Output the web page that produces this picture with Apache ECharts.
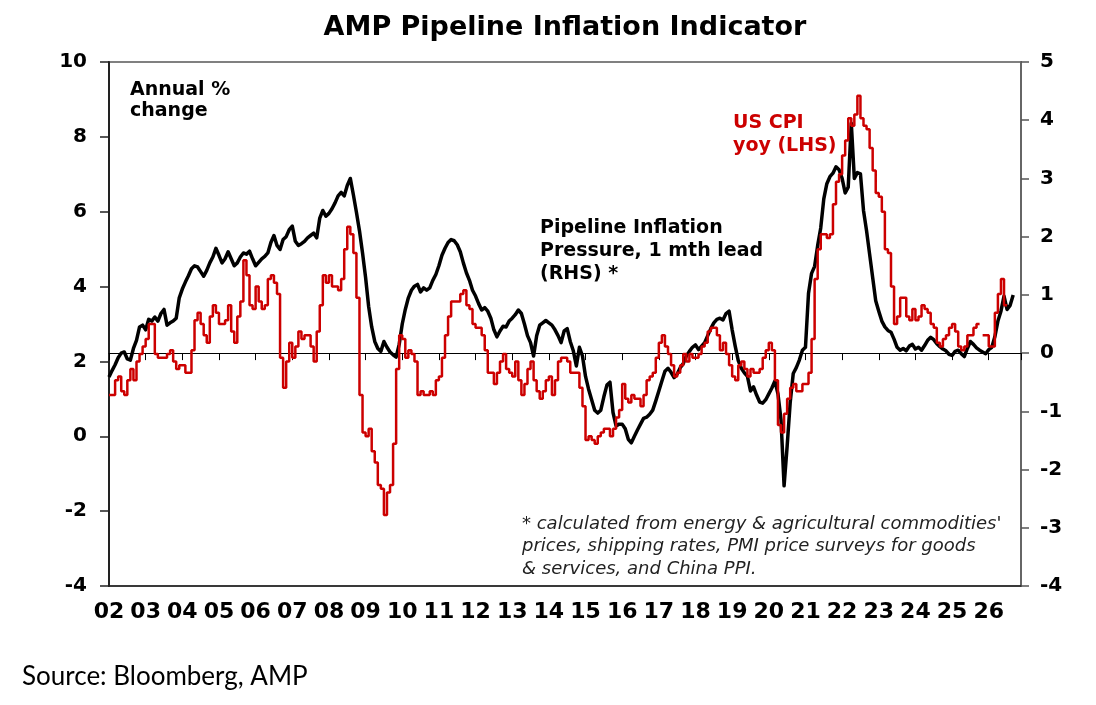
<!DOCTYPE html>
<html lang="en">

<head>
    <meta charset="UTF-8">
    <title>AMP Pipeline Inflation Indicator</title>
    <style>
        html, body { margin: 0; padding: 0; background: #fff; }
        #chart { width: 1096px; height: 705px; }
    </style>
</head>

<body>
    <div id="chart"></div>
</body>
<script src="https://cdn.jsdelivr.net/npm/echarts@6.0.0/dist/echarts.min.js"></script>
<script>
    // x axis tick labels, one per year from 2002
    var yearLabels = ['02', '03', '04', '05', '06', '07', '08', '09', '10', '11', '12', '13',
        '14', '15', '16', '17', '18', '19', '20', '21', '22', '23', '24', '25', '26'];

    // US CPI yoy (LHS), monthly from Jan 2002
    var cpiStart = 2002;
    var cpiYoy = [
        1.1, 1.1, 1.5, 1.6, 1.2, 1.1, 1.5, 1.8, 1.5, 2.0, 2.2, 2.4,
        2.6, 3.0, 3.0, 2.2, 2.1, 2.1, 2.1, 2.2, 2.3, 2.0, 1.8, 1.9,
        1.9, 1.7, 1.7, 2.3, 3.1, 3.3, 3.0, 2.7, 2.5, 3.2, 3.5, 3.3,
        3.0, 3.0, 3.1, 3.5, 2.8, 2.5, 3.2, 3.6, 4.7, 4.3, 3.5, 3.4,
        4.0, 3.6, 3.4, 3.5, 4.2, 4.3, 4.1, 3.8, 2.1, 1.3, 2.0, 2.5,
        2.1, 2.4, 2.8, 2.6, 2.7, 2.7, 2.4, 2.0, 2.8, 3.5, 4.3, 4.1,
        4.3, 4.0, 4.0, 3.9, 4.2, 5.0, 5.6, 5.4, 4.9, 3.7, 1.1, 0.1,
        0.0, 0.2, -0.4, -0.7, -1.3, -1.4, -2.1, -1.5, -1.3, -0.2, 1.8, 2.7,
        2.6, 2.1, 2.3, 2.2, 2.0, 1.1, 1.2, 1.1, 1.1, 1.2, 1.1, 1.5,
        1.6, 2.1, 2.7, 3.2, 3.6, 3.6, 3.6, 3.8, 3.9, 3.5, 3.4, 3.0,
        2.9, 2.9, 2.7, 2.3, 1.7, 1.7, 1.4, 1.7, 2.0, 2.2, 1.8, 1.7,
        1.6, 2.0, 1.5, 1.1, 1.4, 1.8, 2.0, 1.5, 1.2, 1.0, 1.2, 1.5,
        1.6, 1.1, 1.5, 2.0, 2.1, 2.1, 2.0, 1.7, 1.7, 1.7, 1.3, 0.8,
        -0.1, 0.0, -0.1, -0.2, 0.0, 0.1, 0.2, 0.2, 0.0, 0.2, 0.5, 0.7,
        1.4, 1.0, 0.9, 1.1, 1.0, 1.0, 0.8, 1.1, 1.5, 1.6, 1.7, 2.1,
        2.5, 2.7, 2.4, 2.2, 1.9, 1.6, 1.7, 1.9, 2.2, 2.0, 2.2, 2.1,
        2.1, 2.2, 2.4, 2.5, 2.8, 2.9, 2.9, 2.7, 2.3, 2.5, 2.2, 1.9,
        1.6, 1.5, 1.9, 2.0, 1.8, 1.6, 1.8, 1.7, 1.7, 1.8, 2.1, 2.3,
        2.5, 2.3, 1.5, 0.3, 0.1, 0.6, 1.0, 1.3, 1.4, 1.2, 1.2, 1.4,
        1.4, 1.7, 2.6, 4.2, 5.0, 5.4, 5.4, 5.3, 5.4, 6.2, 6.8, 7.0,
        7.5, 7.9, 8.5, 8.3, 8.6, 9.1, 8.5, 8.3, 8.2, 7.7, 7.1, 6.5,
        6.4, 6.0, 5.0, 4.9, 4.0, 3.0, 3.2, 3.7, 3.7, 3.2, 3.1, 3.4,
        3.1, 3.2, 3.5, 3.4, 3.3, 3.0, 2.9, 2.5, 2.4, 2.6, 2.7, 2.9,
        3.0, 2.8, 2.4, 2.3, 2.4, 2.7, 2.7, 2.9, 3.0, null, 2.7, 2.7,
        2.4, 2.4, 3.3, 3.8, 4.2, 3.5
    ];

    // Pipeline inflation pressure, 1 mth lead (RHS), monthly from Jan 2002
    var pipelineStart = 2002;
    var pipelineRhs = [
        -0.41, -0.30, -0.20, -0.08, 0.00, 0.02, -0.10, -0.12, 0.08, 0.22, 0.45, 0.48,
        0.40, 0.58, 0.55, 0.62, 0.55, 0.68, 0.75, 0.48, 0.52, 0.55, 0.60, 0.95,
        1.10, 1.22, 1.33, 1.45, 1.50, 1.48, 1.40, 1.32, 1.42, 1.55, 1.65, 1.80,
        1.68, 1.55, 1.62, 1.74, 1.62, 1.50, 1.55, 1.65, 1.72, 1.70, 1.75, 1.62,
        1.50, 1.56, 1.62, 1.66, 1.72, 1.90, 2.02, 1.85, 1.78, 1.95, 2.00, 2.12,
        2.18, 1.92, 1.85, 1.88, 1.92, 1.98, 2.02, 2.06, 1.98, 2.32, 2.45, 2.35,
        2.40, 2.48, 2.58, 2.70, 2.76, 2.70, 2.88, 3.00, 2.72, 2.42, 2.10, 1.72,
        1.30, 0.80, 0.45, 0.20, 0.08, 0.03, 0.20, 0.10, 0.02, -0.03, -0.07, 0.15,
        0.50, 0.75, 0.95, 1.08, 1.15, 1.18, 1.05, 1.12, 1.08, 1.12, 1.25, 1.35,
        1.50, 1.68, 1.80, 1.90, 1.95, 1.93, 1.86, 1.74, 1.55, 1.38, 1.25, 1.08,
        0.98, 0.85, 0.74, 0.78, 0.72, 0.60, 0.40, 0.28, 0.38, 0.46, 0.45, 0.55,
        0.60, 0.66, 0.74, 0.68, 0.50, 0.30, 0.18, -0.05, 0.30, 0.48, 0.52, 0.56,
        0.52, 0.48, 0.40, 0.30, 0.18, 0.38, 0.42, 0.20, 0.04, -0.22, 0.10, -0.05,
        -0.40, -0.62, -0.80, -0.98, -1.03, -0.98, -0.75, -0.55, -0.50, -1.02, -1.25, -1.22,
        -1.22, -1.30, -1.48, -1.54, -1.43, -1.32, -1.22, -1.12, -1.10, -1.05, -0.98, -0.82,
        -0.65, -0.48, -0.31, -0.26, -0.33, -0.42, -0.36, -0.25, -0.18, -0.05, 0.03, 0.10,
        0.14, 0.06, 0.12, 0.18, 0.30, 0.42, 0.52, 0.58, 0.60, 0.57, 0.68, 0.72,
        0.40, 0.12, -0.13, -0.26, -0.34, -0.40, -0.65, -0.58, -0.72, -0.84, -0.86, -0.80,
        -0.70, -0.60, -0.48, -0.70, -1.15, -2.28, -1.60, -0.85, -0.35, -0.25, -0.12, 0.05,
        0.10, 1.03, 1.37, 1.49, 1.85, 2.15, 2.65, 2.91, 3.03, 3.09, 3.20, 3.15,
        3.00, 2.75, 2.85, 3.95, 3.00, 3.10, 3.08, 2.45, 2.10, 1.70, 1.30, 0.90,
        0.72, 0.55, 0.45, 0.39, 0.36, 0.24, 0.10, 0.05, 0.08, 0.04, 0.12, 0.15,
        0.07, 0.10, 0.05, 0.13, 0.22, 0.27, 0.23, 0.16, 0.11, 0.07, 0.04, -0.02,
        -0.04, 0.03, 0.05, -0.01, -0.06, 0.08, 0.20, 0.15, 0.09, 0.05, 0.02, -0.01,
        0.06, 0.10, 0.28, 0.55, 0.72, 0.98, 0.75, 0.82, 1.00
    ];

    var footnoteLines = [
        "* calculated from energy & agricultural commodities'",
        'prices, shipping rates, PMI price surveys for goods',
        '& services, and China PPI.'
    ];

    var xMin = 2002;
    var xMax = 2026.88;
    var boldFont = 'DejaVu Sans';

    function label(text, x, y, size, color, weight, italic, family, align) {
        var font = (italic ? 'italic ' : '') + (weight || 'bold') + ' ' + size + 'px "' + (family || boldFont) + '"';
        return {
            type: 'text', x: x, y: y, silent: true, z: 50,
            style: {
                text: text, font: font, fill: color,
                align: align || 'left', verticalAlign: 'middle',
                textAlign: align || 'left', textVerticalAlign: 'middle'
            }
        };
    }

    function setChart() {
        var myChart = echarts.init(document.getElementById('chart'), null, { renderer: 'canvas' });

        var cpiData = cpiYoy.map(function (v, i) {
            return [cpiStart + i / 12, v === null ? '-' : v];
        });
        // hold the last month until its end
        cpiData.push([cpiStart + cpiYoy.length / 12, cpiYoy[cpiYoy.length - 1]]);

        var pipelineData = pipelineRhs.map(function (v, i) {
            return [pipelineStart + i / 12, v];
        });

        var graphics = [
            label('AMP Pipeline Inflation Indicator', 565, 28, 27, '#000', 'bold', false, null, 'center'),
            label('Annual %', 130, 90, 19, '#000'),
            label('change', 130, 111, 19, '#000'),
            label('Pipeline Inflation', 540, 228, 19, '#000'),
            label('Pressure, 1 mth lead', 540, 251, 19, '#000'),
            label('(RHS) *', 540, 274, 19, '#000'),
            label('US CPI', 733, 123, 19, '#cc0000'),
            label('yoy (LHS)', 733, 146, 19, '#cc0000'),
            label('Source: Bloomberg, AMP', 22, 677, 26, '#000', 'normal', false, 'Lato')
        ];
        footnoteLines.forEach(function (t, i) {
            graphics.push(label(t, 522, 524 + i * 22.5, 18, '#222', 'normal', true));
        });

        var option = {
            animation: false,
            backgroundColor: '#fff',
            grid: {
                left: 109, right: 75, top: 62, bottom: 119,
                show: true, borderColor: '#808080', borderWidth: 2, backgroundColor: 'transparent'
            },
            xAxis: [{
                type: 'value', min: xMin, max: xMax, interval: 1, position: 'bottom',
                axisLine: { onZero: false, lineStyle: { color: '#222', width: 1.5 } },
                axisTick: { show: false },
                splitLine: { show: false },
                axisLabel: {
                    margin: 15, fontSize: 22, fontWeight: 'bold', fontFamily: boldFont, color: '#000',
                    showMaxLabel: false,
                    formatter: function (v) {
                        var k = Math.round(v - xMin);
                        return Math.abs(v - xMin - k) < 1e-6 && yearLabels[k] ? yearLabels[k] : '';
                    }
                }
            }, {
                // year ticks hanging off the RHS zero line
                type: 'value', min: xMin, max: xMax, interval: 1, position: 'bottom',
                axisLine: { onZero: true, onZeroAxisIndex: 1, lineStyle: { color: '#000', width: 1 } },
                axisTick: { show: true, length: 7, lineStyle: { color: '#000', width: 1 } },
                axisLabel: { show: false },
                splitLine: { show: false }
            }],
            yAxis: [{
                type: 'value', min: -4, max: 10, interval: 2, position: 'left',
                axisLine: { show: true, onZero: false, lineStyle: { color: '#222', width: 2 } },
                axisTick: { show: true, length: 9, lineStyle: { color: '#222', width: 1.5 } },
                splitLine: { show: false },
                axisLabel: { margin: 22, fontSize: 20, fontWeight: 'bold', fontFamily: boldFont, color: '#000' }
            }, {
                type: 'value', min: -4, max: 5, interval: 1, position: 'right',
                axisLine: { show: true, onZero: false, lineStyle: { color: '#666', width: 2 } },
                axisTick: { show: true, length: 8, lineStyle: { color: '#555', width: 1.5 } },
                splitLine: { show: false },
                axisLabel: { margin: 19, fontSize: 20, fontWeight: 'bold', fontFamily: boldFont, color: '#000' }
            }],
            series: [{
                name: 'Pipeline Inflation Pressure, 1 mth lead (RHS)',
                type: 'line', xAxisIndex: 0, yAxisIndex: 1,
                data: pipelineData, symbol: 'none', showSymbol: false,
                lineStyle: { color: '#000', width: 3.5, join: 'round' }, z: 3
            }, {
                name: 'US CPI yoy (LHS)',
                type: 'line', xAxisIndex: 0, yAxisIndex: 0, step: 'end',
                data: cpiData, symbol: 'none', showSymbol: false,
                lineStyle: { color: '#cc0000', width: 2.5 }, z: 4
            }],
            graphic: graphics
        };
        myChart.setOption(option);
    }
    setChart();
</script>

</html>
